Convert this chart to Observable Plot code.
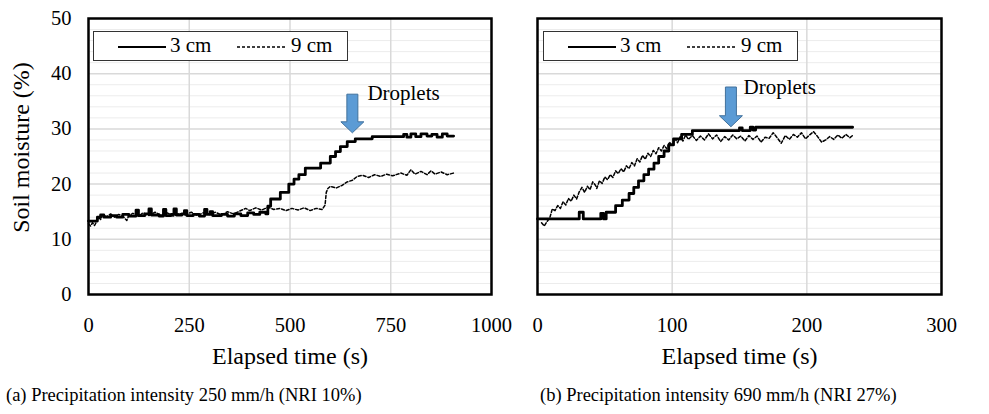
<!DOCTYPE html>
<html><head><meta charset="utf-8">
<script src="https://cdn.jsdelivr.net/npm/d3@7"></script>
<script src="https://cdn.jsdelivr.net/npm/@observablehq/plot@0.6"></script>
<style>
body{margin:0;background:#fff;}
#root{position:relative;width:989px;height:414px;font-family:"Liberation Serif",serif;color:#000;background:#fff;}
.panel{position:absolute;top:0;}
.legend{position:absolute;top:31px;width:255px;height:30px;border:1px solid #333;box-sizing:border-box;background:#fff;font-size:21px;}
.legend svg{position:absolute;top:13px;}
.legend span{position:absolute;top:1px;white-space:nowrap;}
.caption{position:absolute;top:385px;font-size:18.5px;white-space:nowrap;}
</style></head>
<body><div id="root"></div>
<script>
// ---- data ----
const yTicks = [0, 10, 20, 30, 40, 50];
const yMinor = [2, 4, 6, 8, 12, 14, 16, 18, 22, 24, 26, 28, 32, 34, 36, 38, 42, 44, 46, 48];
const xTicksA = [0, 250, 500, 750, 1000];
const xTicksB = [0, 100, 200, 300];
const series = ["3 cm", "9 cm"];
const xTitle = "Elapsed time (s)";
const yTitle = "Soil moisture (%)";
const captions = ["(a) Precipitation intensity 250 mm/h (NRI 10%)", "(b) Precipitation intensity 690 mm/h (NRI 27%)"];

// panel (a): [time s, moisture %]
const a3cm = [[0,13.3],[22,14.0],[30,14.4],[38,14.0],[55,14.3],[70,14.0],[85,14.5],[100,14.2],[118,15.3],[124,14.3],[140,14.6],[150,15.5],[156,14.4],[175,14.2],[186,15.4],[192,14.3],[205,14.5],[212,15.5],[218,14.4],[232,14.6],[238,15.2],[244,14.3],[260,14.5],[275,14.2],[288,15.4],[294,14.5],[302,15.0],[308,14.3],[330,14.5],[345,14.2],[362,14.6],[378,14.3],[395,14.8],[410,14.5],[425,14.9],[440,14.6],[445,16.0],[452,17.3],[476,18.5],[497,20.0],[510,20.9],[522,21.7],[538,22.9],[576,23.8],[600,25.0],[613,25.9],[625,26.8],[642,27.7],[662,28.2],[704,28.6],[782,29.0],[790,28.5],[800,29.1],[812,28.6],[825,29.1],[840,28.7],[852,29.0],[865,28.5],[878,29.1],[890,28.7],[906,28.7]];
const a9cm = [[0,12.8],[5,12.4],[10,13.0],[15,12.5],[20,13.2],[25,14.0],[30,13.6],[35,14.4],[45,14.1],[55,14.6],[65,14.0],[75,14.5],[85,14.2],[95,13.4],[100,14.3],[110,14.7],[125,14.2],[135,14.8],[150,14.3],[165,14.9],[180,14.4],[195,14.8],[210,14.2],[225,14.7],[240,14.4],[255,14.9],[270,14.3],[285,14.8],[300,14.5],[315,14.9],[330,14.4],[345,15.0],[360,14.6],[375,15.1],[390,15.6],[400,15.2],[415,15.7],[430,15.3],[445,15.8],[460,15.4],[475,15.6],[490,15.2],[505,15.6],[520,15.3],[535,15.7],[550,15.2],[565,15.6],[580,15.4],[587,16.2],[590,18.5],[594,19.2],[600,19.6],[615,19.3],[630,19.8],[642,20.4],[655,20.7],[667,21.4],[680,21.6],[695,21.2],[710,21.7],[725,21.4],[740,21.8],[755,21.5],[775,22.0],[790,21.6],[800,22.6],[810,21.8],[825,22.3],[840,21.7],[850,22.4],[860,21.8],[875,22.2],[890,21.7],[906,22.0]];

// panel (b)
const b3cm = [[0,13.7],[30,13.7],[31,14.9],[34,13.7],[46,13.7],[47,14.7],[49,13.7],[51,14.9],[58,16.1],[63,17.1],[68,18.3],[71.5,19.4],[75,20.6],[79,21.7],[82.5,22.7],[86.5,23.8],[90,25.0],[94,26.0],[97.5,27.1],[101,28.2],[107,29.0],[115,29.7],[150,30.2],[152,29.7],[158,30.3],[160,29.8],[162,30.3],[234,30.3]];
const b9cm = [[3,13.0],[5,12.4],[7,13.2],[9,13.8],[11,15.5],[13,15.2],[15,16.1],[17,15.6],[19,16.8],[21,16.2],[23,17.4],[25,16.9],[27,18.0],[29,17.3],[31,18.6],[33,19.4],[35,18.5],[37,19.6],[39,19.0],[41,20.4],[43,19.8],[44,19.2],[46,20.6],[48,20.1],[50,21.3],[52,20.8],[54,21.7],[56,21.2],[58,22.4],[60,21.9],[62,22.8],[64,22.2],[66,23.3],[68,22.8],[70,23.9],[72,23.3],[74,24.6],[76,24.0],[78,25.2],[80,24.5],[82,25.6],[84,25.0],[86,26.1],[88,25.5],[90,26.6],[92,26.0],[94,27.0],[96,26.4],[98,27.6],[100,27.0],[102,28.2],[104,27.5],[106,28.6],[108,27.8],[110,28.9],[112,28.1],[115,28.8],[118,27.9],[121,28.7],[124,28.0],[127,29.1],[130,28.2],[133,28.9],[136,27.7],[139,28.6],[142,28.0],[145,28.9],[148,28.2],[151,28.7],[154,27.8],[157,28.8],[160,28.1],[163,28.7],[166,27.6],[169,28.5],[172,28.3],[175,29.3],[178,28.4],[181,27.4],[184,28.8],[187,28.1],[190,29.0],[193,28.5],[196,29.3],[199,28.2],[202,28.9],[205,29.5],[208,28.6],[211,27.6],[214,28.0],[217,28.6],[220,28.1],[223,28.9],[226,28.3],[229,29.0],[232,28.4],[234,28.8]];

// annotation "Droplets": arrow time, arrow top value, arrow tip value, label time, label value
const dropletsA = {t: 656, top: 36.2, tip: 29.2, labelT: 692, labelV: 35.3};
const dropletsB = {t: 144, top: 37.5, tip: 30.3, labelT: 153, labelV: 36.4};
const dropletsText = "Droplets";

// ---- drawing ----
const SVGNS = "http://www.w3.org/2000/svg";
function blockArrow(d) {
  return (index, scales) => {
    const cx = scales.x(d.t), y0 = scales.y(d.top), y1 = scales.y(d.tip);
    const sw = 5.5, hw = 11.5, hh = 11;
    const pts = [[cx - sw, y0], [cx + sw, y0], [cx + sw, y1 - hh], [cx + hw, y1 - hh], [cx, y1], [cx - hw, y1 - hh], [cx - sw, y1 - hh]];
    const p = document.createElementNS(SVGNS, "polygon");
    p.setAttribute("points", pts.map(q => q.join(",")).join(" "));
    p.setAttribute("fill", "#5B9BD5");
    p.setAttribute("stroke", "#41719C");
    p.setAttribute("stroke-width", "1");
    return p;
  };
}
const toObj = arr => arr.map(([t, v]) => ({t, v}));
const FONT = "'Liberation Serif', serif";

function panel({width, ml, mr, domain, ticks, s3, s9, drop, showY}) {
  const marks = [
    Plot.ruleY(yMinor, {stroke: "#ececec", strokeWidth: 1}),
    Plot.ruleY(yTicks.slice(1, -1), {stroke: "#d9d9d9", strokeWidth: 1.5}),
    Plot.ruleX(ticks.slice(1, -1), {stroke: "#d9d9d9", strokeWidth: 1.5}),
    Plot.line(toObj(s9), {x: "t", y: "v", stroke: "black", strokeWidth: 1.5, strokeDasharray: "3,2"}),
    Plot.line(toObj(s3), {x: "t", y: "v", stroke: "black", strokeWidth: 2.8, curve: "step-after"}),
    Plot.frame({stroke: "black", strokeWidth: 2.5}),
    blockArrow(drop),
    Plot.text([{t: drop.labelT, v: drop.labelV, s: dropletsText}], {x: "t", y: "v", text: "s", textAnchor: "start", lineAnchor: "bottom", fontSize: 21, fill: "black"}),
    Plot.text([xTitle], {frameAnchor: "bottom", textAnchor: "middle", lineAnchor: "middle", dy: 62, fontSize: 24, fill: "black"})
  ];
  if (showY) marks.push(Plot.text([yTitle], {frameAnchor: "left", textAnchor: "middle", lineAnchor: "middle", dx: -67, dy: -9, rotate: -90, fontSize: 24, fill: "black"}));
  return Plot.plot({
    width, height: 370,
    marginLeft: ml, marginRight: mr, marginTop: 18, marginBottom: 76,
    style: {fontFamily: FONT, fontSize: "20.5px", color: "black", background: "transparent", overflow: "visible"},
    x: {domain, ticks, tickSize: 0, tickPadding: 23, label: null, tickFormat: d => String(d)},
    y: showY ? {domain: [0, 50], ticks: yTicks, tickSize: 0, tickPadding: 17, label: null, tickFormat: d => String(d)}
             : {domain: [0, 50], axis: null},
    marks
  });
}

const root = document.getElementById("root");
function place(el, left) { el.classList.add("panel"); el.style.left = left + "px"; root.appendChild(el); }
place(panel({width: 494, ml: 42, mr: 48, domain: [0, 300], ticks: xTicksB, s3: b3cm, s9: b9cm, drop: dropletsB, showY: false}), 495);
place(panel({width: 495, ml: 88, mr: 4, domain: [0, 1000], ticks: xTicksA, s3: a3cm, s9: a9cm, drop: dropletsA, showY: true}), 0);

function legend(left) {
  const div = document.createElement("div");
  div.className = "legend";
  div.style.left = left + "px";
  div.innerHTML =
    `<svg width="48" height="4" style="left:24px"><line x1="0" y1="2" x2="48" y2="2" stroke="black" stroke-width="2.2"/></svg>` +
    `<span style="left:76px">${series[0]}</span>` +
    `<svg width="50" height="4" style="left:143px"><line x1="0" y1="2" x2="50" y2="2" stroke="black" stroke-width="1.3" stroke-dasharray="3,2"/></svg>` +
    `<span style="left:197px">${series[1]}</span>`;
  root.appendChild(div);
}
legend(93);
legend(543);

captions.forEach((c, i) => {
  const d = document.createElement("div");
  d.className = "caption";
  d.textContent = c;
  d.style.left = (i === 0 ? 6 : 540) + "px";
  root.appendChild(d);
});
</script></body></html>
